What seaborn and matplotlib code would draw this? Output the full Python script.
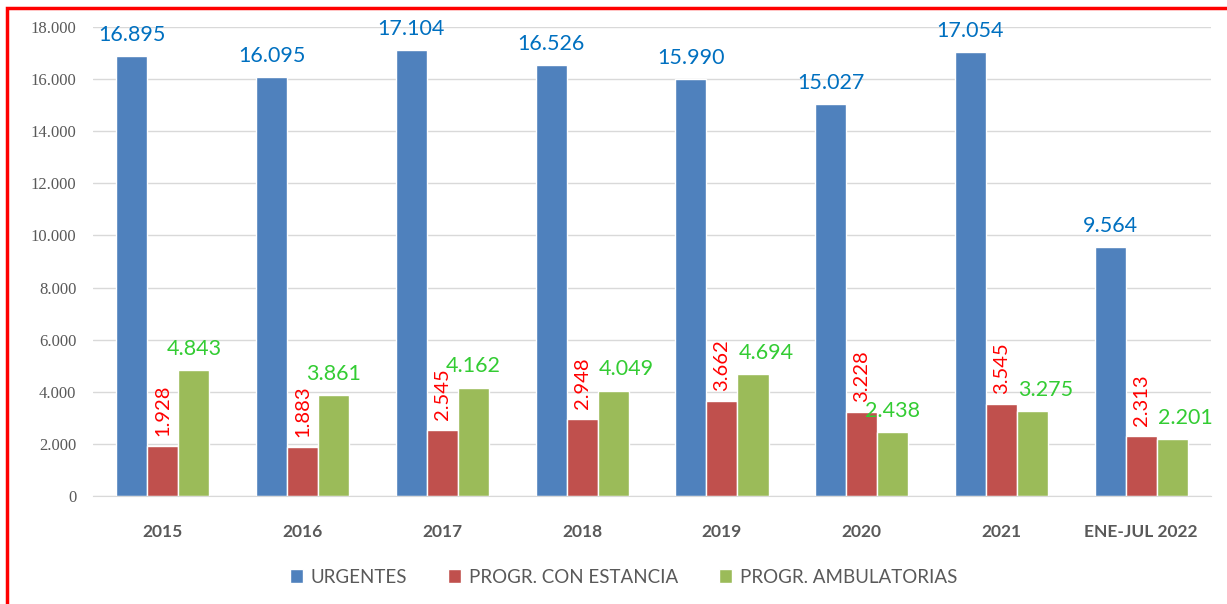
import matplotlib
matplotlib.use("Agg")
import matplotlib.pyplot as plt
from matplotlib.patches import Rectangle
import seaborn as sns
import pandas as pd

# datos de la grafica
periodos = ["2015", "2016", "2017", "2018", "2019", "2020", "2021", "ENE-JUL 2022"]
series = ["URGENTES", "PROGR. CON ESTANCIA", "PROGR. AMBULATORIAS"]
urgentes = [16895, 16095, 17104, 16526, 15990, 15027, 17054, 9564]
con_estancia = [1928, 1883, 2545, 2948, 3662, 3228, 3545, 2313]
ambulatorias = [4843, 3861, 4162, 4049, 4694, 2438, 3275, 2201]
y_ticks = [0, 2000, 4000, 6000, 8000, 10000, 12000, 14000, 16000, 18000]

colores_barras = ["#4F81BD", "#C0504D", "#9BBB59"]
colores_etiquetas = ["#0070C0", "#FF0000", "#33CC33"]
# etiquetas verdes desplazadas a la derecha (como en el original)
desplazar_verdes = {"2018", "2019", "2021", "ENE-JUL 2022"}


def miles(v):
    return f"{int(round(v)):,}".replace(",", ".")


df = pd.DataFrame({
    "periodo": periodos * 3,
    "serie": [series[0]] * 8 + [series[1]] * 8 + [series[2]] * 8,
    "valor": urgentes + con_estancia + ambulatorias,
})

sns.set_style("white")
plt.rcParams["font.family"] = ["Lato", "DejaVu Sans"]

fig = plt.figure(figsize=(12.27, 6.04), dpi=100)
ax = fig.add_axes([0.0758, 0.1788, 0.9112, 0.7765])

sns.barplot(data=df, x="periodo", y="valor", hue="serie", order=periodos,
            hue_order=series, palette=colores_barras, width=0.667,
            saturation=1, errorbar=None, ax=ax, legend=True)

ax.set_xlim(-0.5, len(periodos) - 0.5)
ax.set_ylim(0, 18000)
ax.set_yticks(y_ticks)
ax.set_yticklabels([miles(t) for t in y_ticks], family="Liberation Serif",
                   fontsize=12, color="#595959")
ax.tick_params(axis="y", length=0, pad=12)
ax.tick_params(axis="x", length=0, pad=20)
for lbl in ax.get_xticklabels():
    lbl.set_fontweight("bold")
    lbl.set_fontsize(12.5)
    lbl.set_color("#595959")
ax.set_xlabel("")
ax.set_ylabel("")
ax.grid(axis="y", color="#D9D9D9", linewidth=1)
ax.set_axisbelow(True)
for s in ["top", "right", "left"]:
    ax.spines[s].set_visible(False)
ax.spines["bottom"].set_color("#D9D9D9")

# etiquetas de valores
for i, cont in enumerate(ax.containers):
    etiquetas = [miles(b.get_height()) for b in cont]
    if i == 1:
        ax.bar_label(cont, labels=etiquetas, padding=7, rotation=90,
                     color=colores_etiquetas[i], fontsize=14.5)
    else:
        anns = ax.bar_label(cont, labels=etiquetas, padding=8,
                            color=colores_etiquetas[i], fontsize=15.5)
        if i == 2:
            for per, ann in zip(periodos, anns):
                if per in desplazar_verdes:
                    ann.xyann = (9.5, 8)

leg = ax.legend(loc="center", bbox_to_anchor=(0.508, 0.0447),
                bbox_transform=fig.transFigure, ncol=3, frameon=False,
                handlelength=0.7, handleheight=0.7, handletextpad=0.4,
                columnspacing=2.2, fontsize=13.5)
for t in leg.get_texts():
    t.set_color("#595959")

# marco rojo
fig.patches.append(Rectangle((0.0057, -0.05), 1.1, 1.037, transform=fig.transFigure,
                             fill=False, edgecolor="#FF0000", linewidth=2.5))

fig.savefig("out.png", dpi=100)
